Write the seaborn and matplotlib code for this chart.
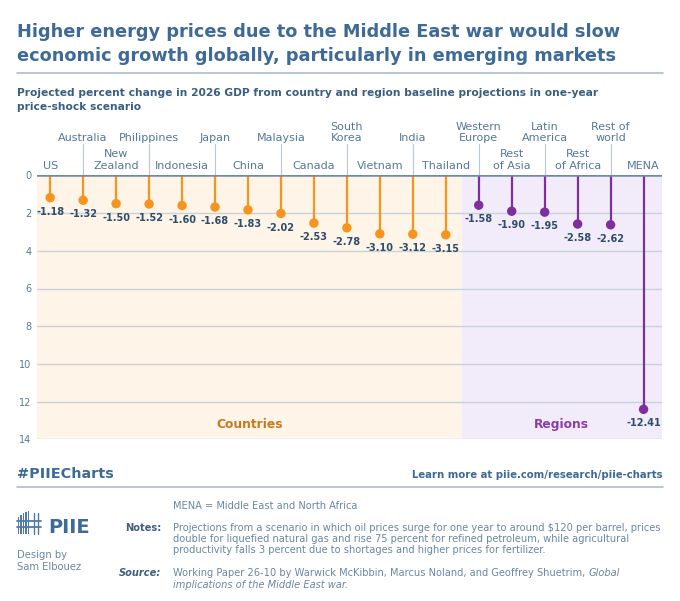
import matplotlib
matplotlib.use('Agg')
import numpy as np
import pandas as pd
import matplotlib.pyplot as plt
import seaborn as sns
from matplotlib.lines import Line2D
from matplotlib.patches import Rectangle

# ---- data ----
names = ['US', 'Australia', 'New\nZealand', 'Philippines', 'Indonesia', 'Japan',
         'China', 'Malaysia', 'Canada', 'South\nKorea', 'Vietnam', 'India',
         'Thailand', 'Western\nEurope', 'Rest\nof Asia', 'Latin\nAmerica',
         'Rest\nof Africa', 'Rest of\nworld', 'MENA']
gdp_change = [-1.18, -1.32, -1.50, -1.52, -1.60, -1.68, -1.83, -2.02, -2.53,
              -2.78, -3.10, -3.12, -3.15,
              -1.58, -1.90, -1.95, -2.58, -2.62, -12.41]
groups = ['Countries'] * 13 + ['Regions'] * 6
y_ticks = [0, 2, 4, 6, 8, 10, 12, 14]

TITLE = ['Higher energy prices due to the Middle East war would slow',
         'economic growth globally, particularly in emerging markets']
SUBTITLE = ['Projected percent change in 2026 GDP from country and region baseline projections in one-year',
            'price-shock scenario']
NOTE_ABBR = 'MENA = Middle East and North Africa'
NOTES = ['Projections from a scenario in which oil prices surge for one year to around $120 per barrel, prices',
         'double for liquefied natural gas and rise 75 percent for refined petroleum, while agricultural',
         'productivity falls 3 percent due to shortages and higher prices for fertilizer.']
SOURCE = 'Working Paper 26-10 by Warwick McKibbin, Marcus Noland, and Geoffrey Shuetrim, '
SOURCE_IT = ['Global', 'implications of the Middle East war']

ORANGE = '#F7941D'
PURPLE = '#7E2F9F'
ORANGE_BG = '#FEF4E7'
PURPLE_BG = '#F2EBF9'
BLUE = '#3D6A96'
LABEL = '#55789A'
VALUE = '#2E4D6B'
FOOT = '#6A87A3'
RULE = '#A9BDCD'
palette = {'Countries': ORANGE, 'Regions': PURPLE}

df = pd.DataFrame({'name': names, 'pos': np.arange(len(names)),
                   'drop': [-v for v in gdp_change], 'value': gdp_change,
                   'group': groups})

sns.set_theme(style='white')
plt.rcParams['font.family'] = ['DejaVu Sans']

W, H = 680, 601
fig = plt.figure(figsize=(W / 100, H / 100), dpi=100)
fx = lambda x: x / W
fy = lambda y: 1 - y / H

ax = fig.add_axes([fx(37), fy(439.3), fx(661.7) - fx(37), fy(175.4) - fy(439.3)])
xmin, xmax = -0.4, 18.55
ax.set_xlim(xmin, xmax)
ax.set_ylim(14, 0)

split = 12.5
ax.axvspan(xmin, split, color=ORANGE_BG, zorder=0, lw=0)
ax.axvspan(split, xmax, color=PURPLE_BG, zorder=0, lw=0)
for t in y_ticks[1:]:
    ax.axhline(t, color='#C8D2DB', lw=1.0, zorder=1)
ax.axhline(0, color='#6E8BA3', lw=1.8, zorder=5)

ax.vlines(df['pos'], 0, df['drop'], colors=df['group'].map(palette), lw=1.6, zorder=3)
sns.scatterplot(data=df, x='pos', y='drop', hue='group', palette=palette,
                s=46, edgecolor='none', legend=False, ax=ax, zorder=4)

for _, r in df.iterrows():
    ax.annotate(f"{r['value']:.2f}", (r['pos'], r['drop']), xytext=(0, -6.5),
                textcoords='offset points', ha='center', va='top',
                fontsize=7, color=VALUE, fontweight='bold')

# category labels above the zero line, in two staggered rows
xt = ax.get_xaxis_transform()
for i, name in enumerate(names):
    if i % 2 == 0:
        ax.text(i, 1.017, name, transform=xt, ha='center', va='bottom',
                fontsize=8, color=LABEL, linespacing=1.2, clip_on=False)
    else:
        ax.text(i, 1.122, name, transform=xt, ha='center', va='bottom',
                fontsize=8, color=LABEL, linespacing=1.2, clip_on=False)
        ax.plot([i, i], [1.0, 1.118], transform=xt, color='#B9C8D4', lw=0.8,
                clip_on=False, zorder=2)

ax.text(6.06, 13.2, 'Countries', ha='center', va='center', fontsize=8.8,
        fontweight='bold', color='#C8791A')
ax.text(15.51, 13.2, 'Regions', ha='center', va='center', fontsize=8.8,
        fontweight='bold', color='#8A3DAA')

ax.set_yticks(y_ticks)
ax.set_yticklabels([str(t) for t in y_ticks])
ax.set_xticks([])
ax.tick_params(axis='y', length=0, labelsize=7, labelcolor='#5B7892', pad=4)
ax.set_xlabel('')
ax.set_ylabel('')
for s in ax.spines.values():
    s.set_visible(False)

# ---- header ----
fig.text(fx(17.3), fy(37.3), TITLE[0], fontsize=12.75, fontweight='bold', color=BLUE, va='baseline')
fig.text(fx(17.3), fy(61), TITLE[1], fontsize=12.75, fontweight='bold', color=BLUE, va='baseline')
fig.add_artist(Line2D([fx(17), fx(662.7)], [fy(73.3)] * 2, color=RULE, lw=1.2))
fig.text(fx(17.3), fy(96), SUBTITLE[0], fontsize=7.7, fontweight='bold', color='#3A5E80', va='baseline')
fig.text(fx(17.3), fy(110), SUBTITLE[1], fontsize=7.7, fontweight='bold', color='#3A5E80', va='baseline')

# ---- footer ----
fig.text(fx(17.3), fy(477.7), '#PIIECharts', fontsize=10.4, fontweight='bold', color=BLUE, va='baseline')
fig.text(fx(662.7), fy(477.7), 'Learn more at piie.com/research/piie-charts', fontsize=7.3,
         fontweight='bold', color=BLUE, va='baseline', ha='right')
fig.add_artist(Line2D([fx(17), fx(662.7)], [fy(487.3)] * 2, color=RULE, lw=1.2))

# PIIE logo (simplified emblem + wordmark)
for k, top in enumerate([517, 515, 513, 511.5, 510.5]):
    fig.add_artist(Rectangle((fx(17.5 + k * 2.6), fy(534)), fx(1.5), fy(top) - fy(534),
                             color='#4F7AA5', lw=0))
for yy in (521, 527):
    fig.add_artist(Line2D([fx(16.5), fx(41)], [fy(yy)] * 2, color='#4F7AA5', lw=1.3))
for xx in (33.5, 37.5):
    fig.add_artist(Line2D([fx(xx)] * 2, [fy(513), fy(534)], color='#4F7AA5', lw=1.0))
fig.text(fx(48), fy(533), 'PIIE', fontsize=14, fontweight='bold', color=BLUE, va='baseline')
fig.text(fx(17.3), fy(558), 'Design by', fontsize=7.2, color=FOOT, va='baseline')
fig.text(fx(17.3), fy(569.5), 'Sam Elbouez', fontsize=7.2, color=FOOT, va='baseline')

fig.text(fx(172.7), fy(509), NOTE_ABBR, fontsize=7.1, color=FOOT, va='baseline')
fig.text(fx(161.7), fy(531), 'Notes:', fontsize=7.1, fontweight='bold', color='#3F5F7F',
         va='baseline', ha='right')
for k, line in enumerate(NOTES):
    fig.text(fx(172.7), fy(531 + k * 10.9), line, fontsize=7.1, color=FOOT, va='baseline')
fig.text(fx(161.7), fy(576.5), 'Source:', fontsize=7.1, fontweight='bold', style='italic',
         color='#3F5F7F', va='baseline', ha='right')
src = fig.text(fx(172.7), fy(576.5), SOURCE, fontsize=7.1, color=FOOT, va='baseline')
fig.canvas.draw()
bb = src.get_window_extent()
fig.text(bb.x1 / W, fy(576.5), SOURCE_IT[0], fontsize=7.1, style='italic', color=FOOT, va='baseline')
fig.text(fx(172.7), fy(587.5), SOURCE_IT[1] + '.', fontsize=7.1, style='italic', color=FOOT,
         va='baseline')

fig.savefig('out.png', dpi=100)
